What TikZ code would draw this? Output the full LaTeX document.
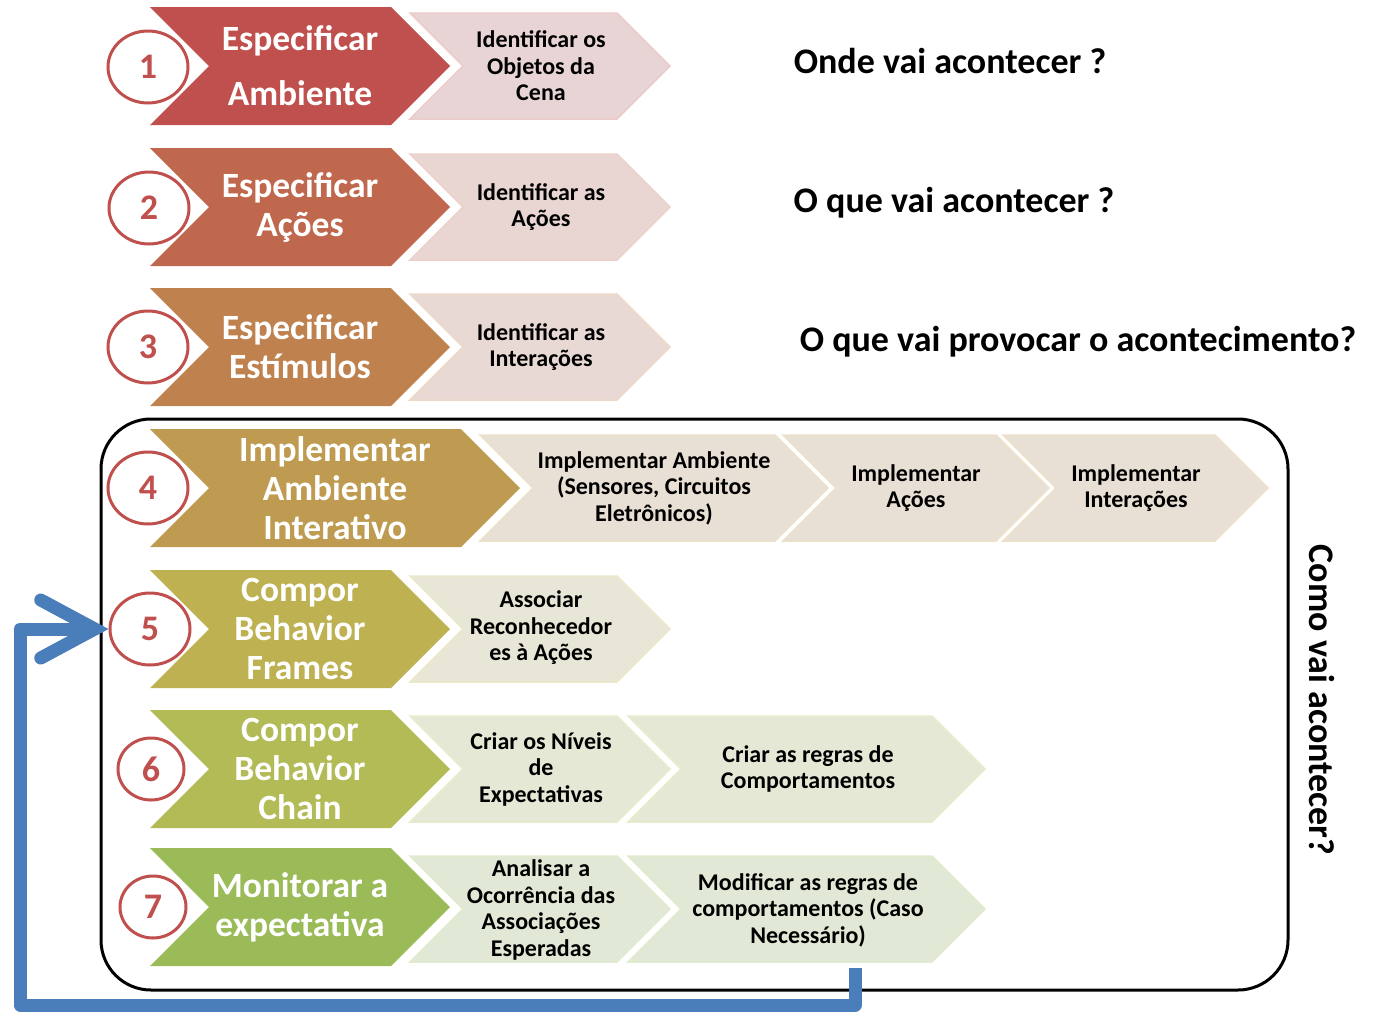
\documentclass[tikz,border=0pt]{standalone}
\usepackage{fontspec}
\setmainfont{Carlito}
\usetikzlibrary{positioning,shapes.geometric,arrows.meta}

\definecolor{rowA}{HTML}{C0504D}
\definecolor{rowB}{HTML}{C0684D}
\definecolor{rowC}{HTML}{BF824F}
\definecolor{rowD}{HTML}{BE9B50}
\definecolor{rowE}{HTML}{BDB152}
\definecolor{rowF}{HTML}{B2BB55}
\definecolor{rowG}{HTML}{9BBB59}
\definecolor{lightA}{HTML}{E8D4D4}
\definecolor{lightB}{HTML}{E9D6D3}
\definecolor{lightC}{HTML}{E9D9D4}
\definecolor{lightD}{HTML}{E8E0D5}
\definecolor{lightE}{HTML}{E8E6D6}
\definecolor{lightF}{HTML}{E6E8D6}
\definecolor{lightG}{HTML}{E2E8D6}
\definecolor{numred}{HTML}{C0504D}
\definecolor{loopblue}{HTML}{4A7EBB}

% chevron: left x, tip x, middle y, half height, options
\newcommand{\chevron}[5]{%
  \path[#5] (#1,#3-#4) -- (#2-#4,#3-#4) -- (#2,#3) -- (#2-#4,#3+#4)
    -- (#1,#3+#4) -- (#1+#4,#3) -- cycle;}

\begin{document}
\begin{tikzpicture}[x=1pt,y=-1pt,
	bigtxt/.style={text=white,align=center,inner sep=0,font=\fontsize{35.5}{39}\selectfont\bfseries},
	smalltxt/.style={text=black,align=center,inner sep=0,font=\fontsize{24}{26.5}\selectfont\bfseries},
	question/.style={text=black,inner sep=0,font=\fontsize{36}{40}\selectfont\bfseries},
	stepnum/.style={ellipse,draw=numred,line width=3pt,fill=white,minimum width=80,minimum height=72,
		inner sep=0,text=numred,font=\fontsize{36}{40}\selectfont\bfseries},
	small/.style={fill=light#1,draw=row#1!30,line width=1.5pt}]
	\useasboundingbox (0,0) rectangle (1382,1031);
	% Frame round the steps that are implemented
	\draw[line width=3pt,rounded corners=50] (101,419) rectangle (1288,990);
	% Big chevrons
	\chevron{150}{450}{66}{59}{fill=rowA}
	\chevron{150}{450}{207}{59}{fill=rowB}
	\chevron{150}{450}{347}{59}{fill=rowC}
	\chevron{150}{520}{488}{59}{fill=rowD}
	\chevron{150}{450}{629}{59}{fill=rowE}
	\chevron{150}{450}{769}{59}{fill=rowF}
	\chevron{150}{450}{907}{59}{fill=rowG}
	% Small chevrons
	\chevron{410}{670}{66}{53}{small=A}
	\chevron{410}{670}{207}{53}{small=B}
	\chevron{410}{670}{347}{53}{small=C}
	\chevron{480}{828}{488}{53}{small=D}
	\chevron{783}{1049}{488}{53}{small=D}
	\chevron{1003}{1268}{488}{53}{small=D}
	\chevron{410}{670}{629}{53}{small=E}
	\chevron{410}{670}{769}{53}{small=F}
	\chevron{628}{985}{769}{53}{small=F}
	\chevron{410}{670}{909}{53}{small=G}
	\chevron{628}{985}{909}{53}{small=G}
	% Texts of the big chevrons
	\node[bigtxt] (b1) at (300,66) {Especificar\\[16pt]Ambiente};
	\node[bigtxt] (b2) at (300,207) {Especificar\\Ações};
	\node[bigtxt] (b3) at (300,347) {Especificar\\Estímulos};
	\node[bigtxt] (b4) at (335,488) {Implementar\\Ambiente\\Interativo};
	\node[bigtxt] (b5) at (300,629) {Compor\\Behavior\\Frames};
	\node[bigtxt] (b6) at (300,769) {Compor\\Behavior\\Chain};
	\node[bigtxt] (b7) at (300,907) {Monitorar a\\expectativa};
	% Texts of the small chevrons
	\node[smalltxt] (s1) at (541,66) {Identificar os\\Objetos da\\Cena};
	\node[smalltxt] (s2) at (541,207) {Identificar as\\Ações};
	\node[smalltxt] (s3) at (541,347) {Identificar as\\Interações};
	\node[smalltxt] (s4a) at (654,488) {Implementar Ambiente\\(Sensores, Circuitos\\Eletrônicos)};
	\node[smalltxt] (s4b) at (916,488) {Implementar\\Ações};
	\node[smalltxt] (s4c) at (1136,488) {Implementar\\Interações};
	\node[smalltxt] (s5) at (541,628) {Associar\\Reconhecedor\\es à Ações};
	\node[smalltxt] (s6a) at (541,769) {Criar os Níveis\\de\\Expectativas};
	\node[smalltxt] (s6b) at (808,769) {Criar as regras de\\Comportamentos};
	\node[smalltxt] (s7a) at (541,910) {Analisar a\\Ocorrência das\\Associações\\Esperadas};
	\node[smalltxt] (s7b) at (808,910) {Modificar as regras de\\comportamentos (Caso\\Necessário)};
	% Numbered circles
	\node[stepnum] (c1) at (148,67) {1};
	\node[stepnum] (c2) at (149,208) {2};
	\node[stepnum] (c3) at (148,347) {3};
	\node[stepnum] (c4) at (148,488) {4};
	\node[stepnum] (c5) at (150,629) {5};
	\node[stepnum,minimum width=66,minimum height=62] (c6) at (151,769) {6};
	\node[stepnum,minimum width=66,minimum height=62] (c7) at (153,907) {7};
	% Questions
	\node[question] (q1) at (950,61) {Onde vai acontecer ?};
	\node[question] (q2) at (954,203) {O que vai acontecer ?};
	\node[question] (q3) at (1078,342) {O que vai provocar o acontecimento?};
	\node[question,rotate=-90] (q4) at (1322,700) {Como vai acontecer?};
	% Loop back to step 5
	\coordinate (loopstart) at (855,968);
	\draw[loopblue,line width=13pt,line join=round,
		-{Straight Barb[length=54pt,width=58pt,line cap=round]}]
		(loopstart) |- (20,1005) |- (c5.west);
\end{tikzpicture}
\end{document}
